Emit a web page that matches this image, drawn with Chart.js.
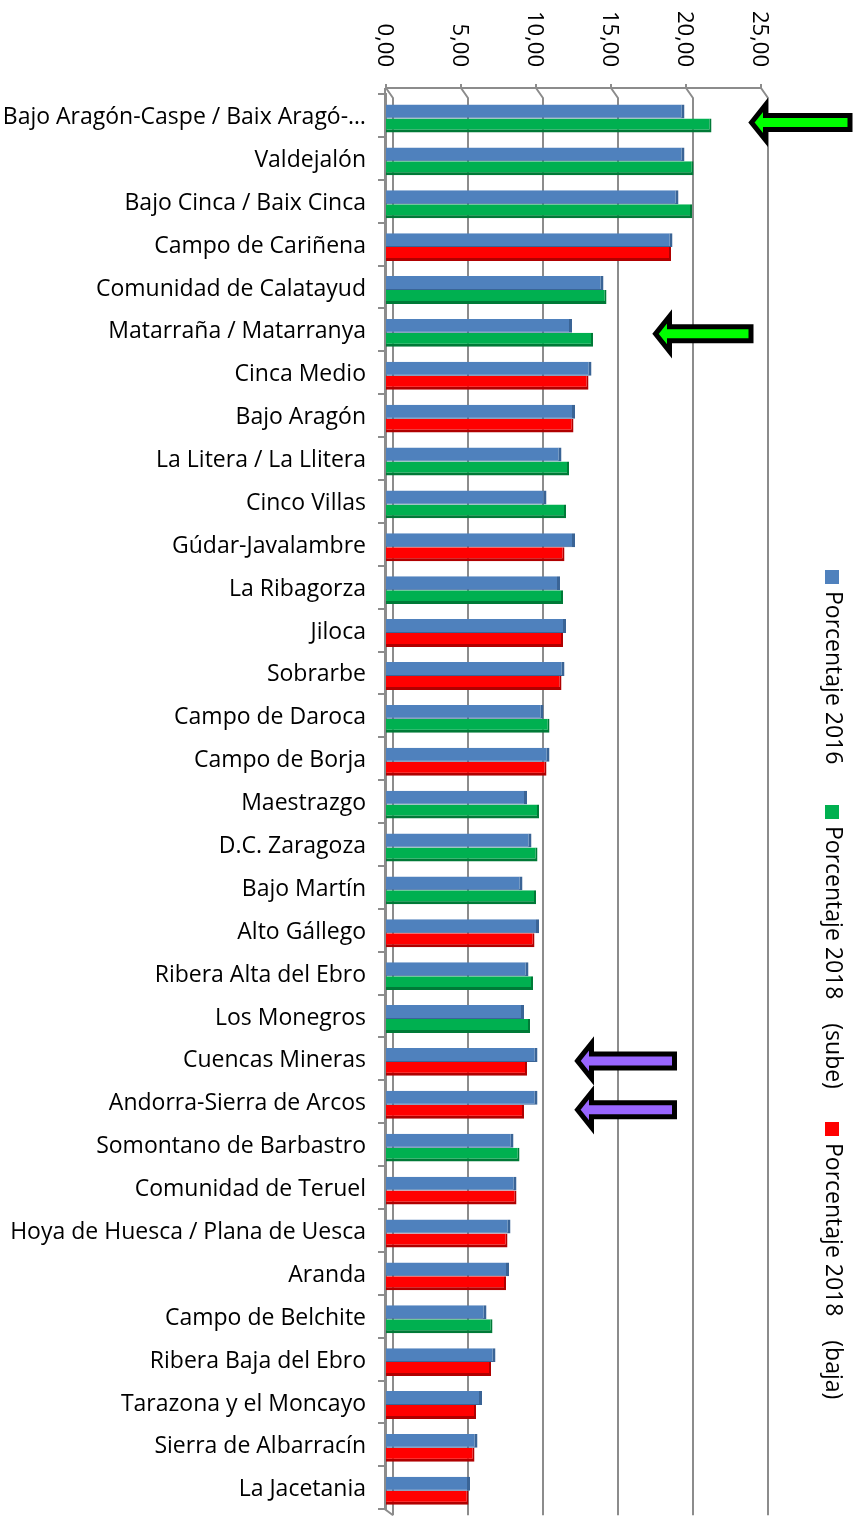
<!DOCTYPE html>
<html><head><meta charset="utf-8">
<script src="https://cdn.jsdelivr.net/npm/chart.js@4/dist/chart.umd.min.js"></script>
<style>html,body{margin:0;padding:0;background:#fff;}canvas{display:block;}</style>
</head><body>
<canvas id="c" width="855" height="1535"></canvas>
<script>
const categories = [
  'Bajo Aragón-Caspe / Baix Aragó-…', 'Valdejalón', 'Bajo Cinca / Baix Cinca', 'Campo de Cariñena',
  'Comunidad de Calatayud', 'Matarraña / Matarranya', 'Cinca Medio', 'Bajo Aragón',
  'La Litera / La Llitera', 'Cinco Villas', 'Gúdar-Javalambre', 'La Ribagorza', 'Jiloca',
  'Sobrarbe', 'Campo de Daroca', 'Campo de Borja', 'Maestrazgo', 'D.C. Zaragoza', 'Bajo Martín',
  'Alto Gállego', 'Ribera Alta del Ebro', 'Los Monegros', 'Cuencas Mineras',
  'Andorra-Sierra de Arcos', 'Somontano de Barbastro', 'Comunidad de Teruel',
  'Hoya de Huesca / Plana de Uesca', 'Aranda', 'Campo de Belchite', 'Ribera Baja del Ebro',
  'Tarazona y el Moncayo', 'Sierra de Albarracín', 'La Jacetania'
];
const values2016 = [19.9, 19.9, 19.5, 19.1, 14.5, 12.4, 13.7, 12.6, 11.7, 10.7, 12.6, 11.6, 12.0,
  11.9, 10.5, 10.9, 9.4, 9.7, 9.1, 10.2, 9.5, 9.2, 10.1, 10.1, 8.5, 8.7, 8.3, 8.2, 6.7, 7.3, 6.4, 6.1, 5.6];
const values2018 = [21.7, 20.5, 20.4, 19.0, 14.7, 13.8, 13.5, 12.5, 12.2, 12.0, 11.9, 11.8, 11.8,
  11.7, 10.9, 10.7, 10.2, 10.1, 10.0, 9.9, 9.8, 9.6, 9.4, 9.2, 8.9, 8.7, 8.1, 8.0, 7.1, 7.0, 6.0, 5.9, 5.5];
const trend2018 = ['sube','sube','sube','baja','sube','sube','baja','baja','sube','sube','baja','sube','baja',
  'baja','sube','baja','sube','sube','sube','baja','sube','sube','baja','baja','sube','baja',
  'baja','baja','sube','baja','baja','baja','baja'];
const tickLabels = ['0,00', '5,00', '10,00', '15,00', '20,00', '25,00'];
const seriesLabels = ['Porcentaje 2016', 'Porcentaje 2018    (sube)', 'Porcentaje 2018    (baja)'];
// annotation arrows: category, tip value, tail value
const arrowCats = ['Bajo Aragón-Caspe / Baix Aragó-…', 'Matarraña / Matarranya', 'Cuencas Mineras', 'Andorra-Sierra de Arcos'];
const arrowTips = [24.1, 17.7, 12.5, 12.5];
const arrowTails = [31.1, 24.5, 19.4, 19.4];

const FONT = '"Open Sans"';
const arrowStyle = [
  {dy: 7, fill: '#00FF00'}, {dy: 4, fill: '#00FF00'}, {dy: 2, fill: '#9966FF'}, {dy: 8, fill: '#9966FF'}
];
const legendStarts = [570, 805, 1122];

const subeData = values2018.map((v, i) => trend2018[i] === 'sube' ? v : null);
const bajaData = values2018.map((v, i) => trend2018[i] === 'baja' ? v : null);

const gridPlugin = {
  id: 'grid3d',
  beforeDatasetsDraw(chart) {
    const ctx = chart.ctx, xs = chart.scales.x, {top, bottom} = chart.chartArea;
    ctx.save();
    ctx.strokeStyle = '#8C8C8C'; ctx.lineWidth = 2;
    const x0 = xs.getPixelForValue(0), x1 = xs.getPixelForValue(25);
    ctx.beginPath(); ctx.moveTo(x0, top - 6); ctx.lineTo(x1, top - 6); ctx.stroke();
    xs.ticks.forEach(t => {
      const px = xs.getPixelForValue(t.value);
      ctx.beginPath();
      ctx.moveTo(px, top - 10); ctx.lineTo(px, top - 6);
      ctx.lineTo(px + 7, top + 4); ctx.lineTo(px + 7, bottom + 6);
      ctx.stroke();
    });
    ctx.beginPath(); ctx.moveTo(x0 - 1, top - 6); ctx.lineTo(x0 - 1, bottom); ctx.lineTo(x0 + 7, bottom + 6); ctx.stroke();
    // tick labels rotated
    ctx.fillStyle = '#000'; ctx.font = '22px ' + FONT;
    ctx.textAlign = 'right'; ctx.textBaseline = 'alphabetic';
    xs.ticks.forEach((t, i) => {
      const px = xs.getPixelForValue(t.value);
      ctx.save(); ctx.translate(px - 8, 67); ctx.rotate(Math.PI / 2);
      ctx.fillText(tickLabels[i], 0, 0); ctx.restore();
    });
    ctx.restore();
    ctx.save(); ctx.translate(0, 3);
  },
  afterDatasetsDraw(chart) {
    chart.ctx.restore();
  },
  afterDraw(chart) {
    const ctx = chart.ctx, xs = chart.scales.x, ys = chart.scales.y;
    // arrows
    arrowCats.forEach((c, i) => {
      const cy = ys.getPixelForValue(categories.indexOf(c)) + arrowStyle[i].dy;
      const tip = xs.getPixelForValue(arrowTips[i]) + 4;
      const tail = xs.getPixelForValue(arrowTails[i]) - 2.5;
      const hb = tip + 14, hh = 17.5, sh = 7;
      ctx.save();
      ctx.beginPath();
      ctx.moveTo(tip, cy); ctx.lineTo(hb, cy - hh); ctx.lineTo(hb, cy - sh); ctx.lineTo(tail, cy - sh);
      ctx.lineTo(tail, cy + sh); ctx.lineTo(hb, cy + sh); ctx.lineTo(hb, cy + hh); ctx.closePath();
      ctx.fillStyle = arrowStyle[i].fill; ctx.fill();
      ctx.lineWidth = 5; ctx.lineJoin = 'miter'; ctx.strokeStyle = '#000'; ctx.stroke();
      ctx.restore();
    });
    // legend rotated
    ctx.save();
    ctx.font = '23px ' + FONT; ctx.fillStyle = '#000';
    chart.data.datasets.forEach((ds, i) => {
      const y0 = legendStarts[i];
      ctx.fillStyle = ds.backgroundColor;
      ctx.fillRect(825, y0, 14, 14);
      ctx.fillStyle = '#000';
      ctx.save(); ctx.translate(826, y0 + 21); ctx.rotate(Math.PI / 2);
      ctx.textAlign = 'left'; ctx.textBaseline = 'alphabetic';
      ctx.fillText(ds.label, 0, 0); ctx.restore();
    });
    ctx.restore();
  }
};

const edge = {top: 0, right: 2, bottom: 3, left: 0};
new Chart(document.getElementById('c'), {
  type: 'bar',
  data: {
    labels: categories,
    datasets: [
      {label: seriesLabels[0], data: values2016, backgroundColor: '#4F81BD', borderColor: '#3A6496', borderWidth: {top: 0, right: 3, bottom: 1, left: 0}, stack: 'a'},
      {label: seriesLabels[1], data: subeData, backgroundColor: '#00B050', borderColor: '#007A37', borderWidth: edge, stack: 'b'},
      {label: seriesLabels[2], data: bajaData, backgroundColor: '#FF0000', borderColor: '#B00000', borderWidth: edge, stack: 'b'}
    ]
  },
  options: {
    indexAxis: 'y',
    responsive: false,
    animation: false,
    devicePixelRatio: 1,
    categoryPercentage: 0.65,
    barPercentage: 1.0,
    layout: {padding: {left: 0, right: 94, top: 0, bottom: 6}},
    plugins: {legend: {display: false}, tooltip: {enabled: false}},
    scales: {
      x: {
        position: 'top', min: 0, max: 25, stacked: true,
        ticks: {stepSize: 5, display: false, callback: (v, i) => tickLabels[i]},
        grid: {display: false}, border: {display: false},
        afterFit: s => { s.height = 94; }
      },
      y: {
        ticks: {color: '#000', font: {family: 'Open Sans', size: 23}, padding: 12, autoSkip: false, labelOffset: 2},
        grid: {drawOnChartArea: false, color: '#8C8C8C', lineWidth: 2, tickLength: 8, offset: true},
        border: {color: '#8C8C8C', width: 2},
        afterFit: s => { s.width = 386; }
      }
    }
  },
  plugins: [gridPlugin]
});
</script>
</body></html>
